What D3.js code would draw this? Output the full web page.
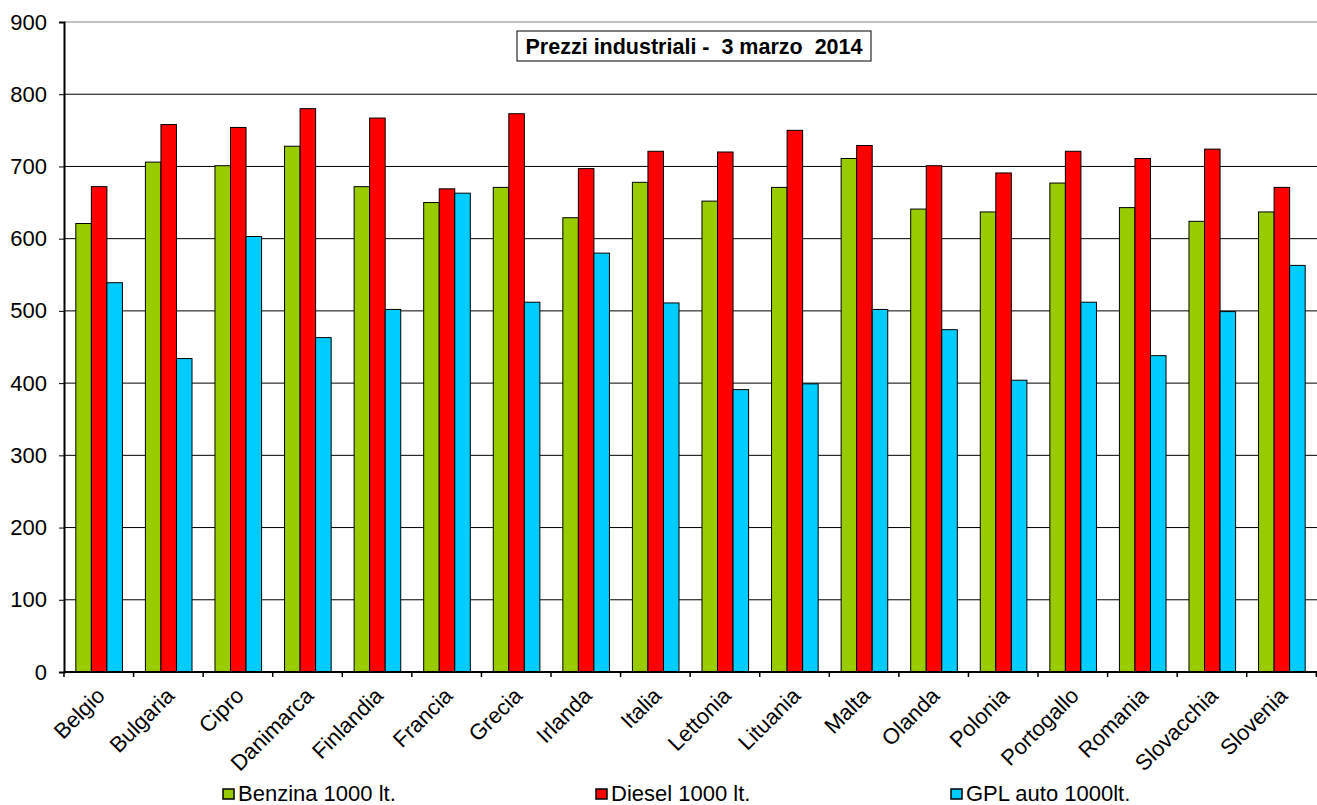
<!DOCTYPE html>
<html>
<head>
<meta charset="utf-8">
<script src="https://cdn.jsdelivr.net/npm/d3@7"></script>
<style>
  body { margin: 0; background: #fff; }
  text { font-family: "Liberation Sans", Arial, sans-serif; }
</style>
</head>
<body>
<div id="chart"></div>
<script>
let paesi = ["Belgio", "Bulgaria", "Cipro", "Danimarca", "Finlandia", "Francia", "Grecia", "Irlanda", "Italia",
  "Lettonia", "Lituania", "Malta", "Olanda", "Polonia", "Portogallo", "Romania", "Slovacchia", "Slovenia"]
let serie = ["Benzina 1000 lt.", "Diesel 1000 lt.", "GPL auto 1000lt."]
let benzina = [621, 706, 701, 728, 672, 650, 671, 629, 678, 652, 671, 711, 641, 637, 677, 643, 624, 637]
let diesel = [672, 758, 754, 780, 767, 669, 773, 697, 721, 720, 750, 729, 701, 691, 721, 711, 724, 671]
let gpl = [539, 434, 603, 463, 502, 663, 512, 580, 511, 391, 399, 502, 474, 404, 512, 438, 499, 563]
let yTicks = [0, 100, 200, 300, 400, 500, 600, 700, 800, 900]
let titolo = "Prezzi industriali -  3 marzo  2014"

let colori = ["#99cc00", "#ff0000", "#00ccff"]

let margin = { top: 22, right: 0, bottom: 133, left: 64 },
  W = 1317, H = 805,
  width = W - margin.left - margin.right,
  height = H - margin.top - margin.bottom

let svg = d3.select("#chart")
  .append("svg")
  .attr("width", W)
  .attr("height", H)

let g = svg.append("g")
  .attr("transform", "translate(" + margin.left + "," + margin.top + ")")

let x0 = d3.scaleBand()
  .domain(paesi)
  .range([0, width])
  .paddingInner(0.33)
  .paddingOuter(0.17)
let x1 = d3.scaleBand()
  .domain(serie)
  .range([0, x0.bandwidth()])
let yScale = d3.scaleLinear()
  .domain([0, 900])
  .range([height, 0])

// gridlines
g.selectAll(".grid")
  .data(yTicks.slice(1))
  .enter()
  .append("line")
  .attr("x1", 0)
  .attr("x2", width)
  .attr("y1", d => yScale(d))
  .attr("y2", d => yScale(d))
  .attr("stroke", d => d == 900 ? "#888" : "#000")
  .attr("stroke-width", 1)

// title box
let tb = g.append("g").attr("transform", "translate(" + (517 - margin.left) + "," + (31 - margin.top) + ")")
tb.append("rect")
  .attr("width", 354)
  .attr("height", 30)
  .attr("fill", "#fff")
  .attr("stroke", "#000")
  .attr("stroke-width", 1)
tb.append("text")
  .attr("x", 177)
  .attr("y", 23)
  .attr("text-anchor", "middle")
  .attr("font-size", 21.5)
  .attr("font-weight", "bold")
  .style("white-space", "pre")
  .text(titolo)

// bars
let valori = [benzina, diesel, gpl]
let rows = paesi.map((p, i) => ({ paese: p, vals: serie.map((s, k) => ({ serie: s, k: k, v: valori[k][i] })) }))

g.selectAll(".gruppo")
  .data(rows)
  .enter()
  .append("g")
  .attr("transform", d => "translate(" + x0(d.paese) + ",0)")
  .selectAll("rect")
  .data(d => d.vals)
  .enter()
  .append("rect")
  .attr("x", d => x1(d.serie))
  .attr("y", d => yScale(d.v))
  .attr("width", x1.bandwidth())
  .attr("height", d => height - yScale(d.v))
  .attr("fill", d => colori[d.k])
  .attr("stroke", "#000")
  .attr("stroke-width", 1)

// y axis
let yAxis = d3.axisLeft(yScale).tickValues(yTicks).tickSize(5).tickPadding(12)
let ya = g.append("g").call(yAxis)
ya.select(".domain").attr("stroke", "#000").attr("stroke-width", 2)
ya.selectAll("text").attr("font-size", 22).attr("fill", "#000")
  .style("font-family", "'Liberation Sans', Arial, sans-serif")

// x axis with ticks at category boundaries
g.append("line")
  .attr("x1", 0).attr("x2", width)
  .attr("y1", height).attr("y2", height)
  .attr("stroke", "#000").attr("stroke-width", 2)
let step = x0.step()
g.selectAll(".xtick")
  .data(d3.range(paesi.length + 1))
  .enter()
  .append("line")
  .attr("x1", d => d * step)
  .attr("x2", d => d * step)
  .attr("y1", height)
  .attr("y2", height + 5)
  .attr("stroke", "#000")
  .attr("stroke-width", 1.5)

g.selectAll(".xlabel")
  .data(paesi)
  .enter()
  .append("text")
  .attr("transform", d => "translate(" + (x0(d) + x0.bandwidth() / 2 + 7) + "," + (height + 25) + ") rotate(-45)")
  .attr("text-anchor", "end")
  .attr("font-size", 22)
  .text(d => d)

// legend
let legX = [223, 596, 951]
let leg = svg.selectAll(".leg")
  .data(serie)
  .enter()
  .append("g")
  .attr("transform", (d, i) => "translate(" + legX[i] + ",789)")
leg.append("rect")
  .attr("width", 11)
  .attr("height", 10)
  .attr("fill", (d, i) => colori[i])
  .attr("stroke", "#000")
  .attr("stroke-width", 1.5)
leg.append("text")
  .attr("x", 15)
  .attr("y", 12)
  .attr("font-size", 22)
  .text(d => d)
</script>
</body>
</html>
